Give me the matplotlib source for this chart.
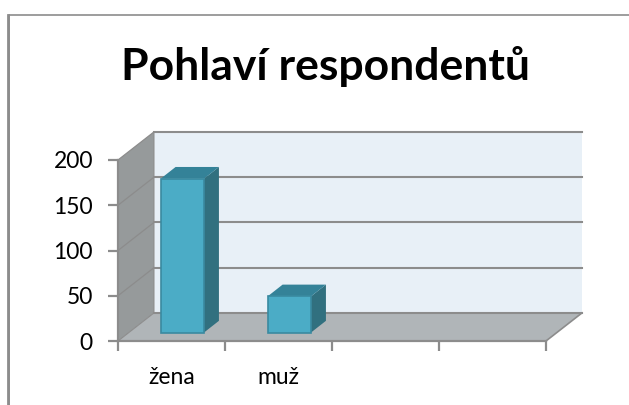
"""Pohlavi respondentu: 3D-looking column chart drawn on a flat axes."""
import matplotlib; matplotlib.use("Agg"); import matplotlib.pyplot as plt
from matplotlib.patches import Polygon

plt.rcParams.update({"font.family": ["Lato", "DejaVu Sans"]})

TITLE = "Pohlaví respondentů"
CATEGORIES = ["žena", "muž", "", ""]
VALUES = [170, 40]
Y_TICKS = [0, 50, 100, 150, 200]

GRAY = "#8c8c8c"
WALL = "#e8f0f7"; FLOOR = "#b0b5b8"; SIDE = "#969a9b"
FRONT = "#4bacc6"; BAR_SIDE = "#31707f"; BAR_TOP = "#348298"; EDGE = "#3a8aa0"
# depth of the fake 3D box, in data units
DX = 0.336; DY = 31.0
BAR_W = 0.405; BAR_OFF = 0.30; BAR_DX = 0.14; BAR_DY = 13.0

W, H = 629, 405
fig = plt.figure(figsize=(W / 100, H / 100), dpi=100, facecolor="white")

# outer chart frame
fig.add_artist(plt.Line2D([8.5 / W, 8.5 / W, 1], [0, 1 - 15 / H, 1 - 15 / H], color=GRAY, lw=1.2))
fig.add_artist(plt.Line2D([8 / W, 8 / W], [0, 1 - 15 / H], color=GRAY, lw=2))
fig.text(325.5 / W, 1 - 66.5 / H, TITLE, ha="center", va="center", fontsize=32, fontweight="bold", color="black")

ax = fig.add_axes([118 / W, (H - 341) / H, 428 / W, 181 / H])
x0, x1 = -0.5, 3.5
ax.set_xlim(x0, x1); ax.set_ylim(0, 200)
ax.patch.set_visible(False)
for s in ["top", "right"]:
    ax.spines[s].set_visible(False)
for s in ["left", "bottom"]:
    ax.spines[s].set_color(GRAY); ax.spines[s].set_linewidth(1.6)


def poly(pts, fc, z, ec="none", lw=0):
    ax.add_patch(Polygon(pts, closed=True, fc=fc, ec=ec, lw=lw, zorder=z, clip_on=False))


# walls and floor
poly([(x0 + DX, DY), (x1 + DX, DY), (x1 + DX, 200 + DY), (x0 + DX, 200 + DY)], WALL, 1)
poly([(x0, 0), (x0 + DX, DY), (x0 + DX, 200 + DY), (x0, 200)], SIDE, 1)
poly([(x0, 0), (x1, 0), (x1 + DX, DY), (x0 + DX, DY)], FLOOR, 1)

# gridlines run along the side wall and then the back wall
for t in Y_TICKS[1:]:
    ax.plot([x0, x0 + DX], [t, t + DY], color=GRAY, lw=0.9, zorder=2, clip_on=False)
    ax.plot([x0 + DX, x1 + DX], [t + DY, t + DY], color=GRAY, lw=1.5, zorder=2, clip_on=False)
ax.plot([x0 + DX, x1 + DX], [DY, DY], color=GRAY, lw=1.5, zorder=2, clip_on=False)
ax.plot([x0, x0 + DX, x0 + DX], [0, DY, 200 + DY], color=GRAY, lw=0.8, zorder=2, clip_on=False)
ax.plot([x1, x1 + DX], [0, DY], color=GRAY, lw=1.2, zorder=2, clip_on=False)

# columns: front face, right side, top
for i, v in enumerate(VALUES):
    l = i - BAR_W / 2 + BAR_OFF * DX; r = i + BAR_W / 2 + BAR_OFF * DX
    b = BAR_OFF * DY; t = b + v
    poly([(r, b), (r + BAR_DX, b + BAR_DY), (r + BAR_DX, t + BAR_DY), (r, t)], BAR_SIDE, 3)
    poly([(l, t), (r, t), (r + BAR_DX, t + BAR_DY), (l + BAR_DX, t + BAR_DY)], BAR_TOP, 3)
    poly([(l, b), (r, b), (r, t), (l, t)], FRONT, 4, ec=EDGE, lw=1.2)

ax.set_yticks(Y_TICKS)
ax.set_xticks([i - 0.5 for i in range(len(CATEGORIES) + 1)], labels=[""] * (len(CATEGORIES) + 1))
ax.set_xticks(range(len(CATEGORIES)), labels=CATEGORIES, minor=True)
ax.tick_params(axis="y", length=7, width=1.6, color=GRAY, labelsize=16.5, pad=11)
ax.tick_params(axis="x", which="major", length=7, width=1.6, color=GRAY)
ax.tick_params(axis="x", which="minor", length=0, labelsize=16.5, pad=19)

fig.savefig("out.png", dpi=100)
